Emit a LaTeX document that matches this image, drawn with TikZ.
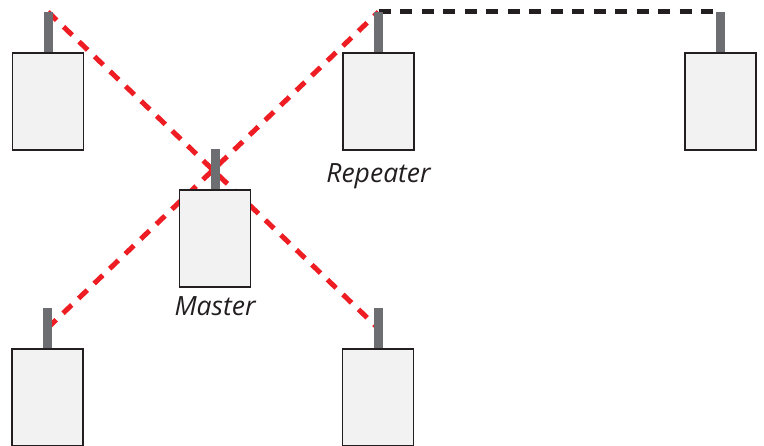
\documentclass[tikz,border=0pt]{standalone}
\usepackage{fontspec}
\setmainfont{Open Sans}
\usetikzlibrary{backgrounds}
\definecolor{linkred}{HTML}{EE1D23}
\definecolor{linkblack}{HTML}{231F20}
\definecolor{antgray}{HTML}{6D6E71}
\definecolor{boxgray}{HTML}{F1F2F1}
\tikzset{
  unit/.style={draw=linkblack, line width=1.4pt, fill=boxgray,
    minimum width=71pt, minimum height=97pt, inner sep=0pt},
  antenna/.style={fill=antgray, minimum width=9pt, minimum height=40pt,
    inner sep=0pt, anchor=south},
  radio/.style={line width=5pt, dash pattern=on 12pt off 9.5pt},
  tag/.style={font=\fontsize{26.5}{30}\selectfont\itshape, text=linkblack,
    anchor=base, inner sep=0pt},
}

\begin{document}
\begin{tikzpicture}[x=1pt,y=-1pt]

  \useasboundingbox (0,0) rectangle (764,445);

  % units
  \node[unit] (topleft) at (48,101.5) {};
  \node[unit] (repeater) at (378.5,101.5) {};
  \node[unit] (topright) at (720.5,101.5) {};
  \node[unit] (master) at (215,238.5) {};
  \node[unit] (botleft) at (47.5,397.5) {};
  \node[unit] (botright) at (378,397.5) {};

  % antennas
  \node[antenna] (ant-topleft) at (topleft.north) {};
  \node[antenna] (ant-repeater) at (repeater.north) {};
  \node[antenna] (ant-topright) at (topright.north) {};
  \node[antenna] (ant-master) at (master.north) {};
  \node[antenna] (ant-botleft) at (botleft.north) {};
  \node[antenna] (ant-botright) at (botright.north) {};

  \node[tag] (lbl-repeater) at ([yshift=-32pt]repeater.south) {Repeater};
  \node[tag] (lbl-master) at ([yshift=-28pt]master.south) {Master};

  % radio links
  \begin{scope}[on background layer]
    \draw[radio, linkred] (ant-topleft.north) -- (ant-botright.center);
    \draw[radio, linkred] (ant-botleft.center) -- (ant-repeater.north);
    \draw[radio, linkblack] (ant-repeater.north) -- (ant-topright.north);
  \end{scope}

\end{tikzpicture}
\end{document}
